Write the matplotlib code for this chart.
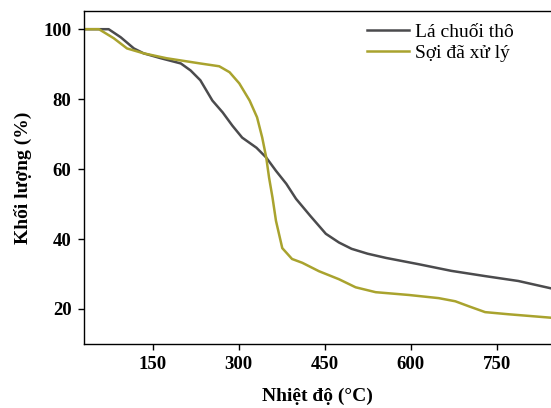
import matplotlib
matplotlib.use('Agg')
import matplotlib.pyplot as plt

# TGA curves
temp_raw = [30, 73, 94, 117, 134, 164, 199, 216, 233, 254, 272, 289, 306, 331, 348,
            365, 383, 400, 425, 452, 475, 497, 525, 557, 614, 671, 730, 788, 845]
mass_raw = [100, 100, 97.7, 94.5, 93.1, 91.7, 90.2, 88.2, 85.4, 79.6, 76.2, 72.4, 69.0,
            66.1, 63.3, 59.5, 55.8, 51.5, 46.6, 41.5, 39.0, 37.2, 35.8, 34.6, 32.8,
            30.9, 29.4, 28.0, 25.9]

temp_treated = [30, 56, 82, 105, 134, 174, 233, 266, 284, 301, 319, 332, 341, 348, 353,
                359, 365, 376, 393, 411, 440, 475, 504, 539, 597, 649, 678, 701, 730,
                770, 845]
mass_treated = [100, 100, 97.4, 94.5, 93.1, 91.7, 90.2, 89.4, 87.7, 84.5, 79.6, 74.8,
                69.0, 63.3, 57.5, 51.8, 45.2, 37.4, 34.3, 33.2, 30.8, 28.5, 26.2, 24.8,
                24.0, 23.1, 22.2, 20.8, 19.1, 18.5, 17.5]

series_labels = ['Lá chuối thô', 'Sợi đã xử lý']
x_ticks = [150, 300, 450, 600, 750]
y_ticks = [20, 40, 60, 80, 100]

plt.rcParams['font.family'] = ['Liberation Serif', 'DejaVu Serif']

fig = plt.figure(figsize=(5.51, 4.08), dpi=100)
ax = fig.add_axes([0.1525, 0.157, 0.8475, 0.816])

ax.plot(temp_raw, mass_raw, color='#4b4b4d', lw=1.8, label=series_labels[0])
ax.plot(temp_treated, mass_treated, color='#a9a32e', lw=1.8, label=series_labels[1])

ax.set_xlim(30, 845)
ax.set_ylim(10, 105.2)
ax.set_xticks(x_ticks)
ax.set_yticks(y_ticks)
ax.tick_params(direction='out', length=4, width=1, labelsize=13.5, pad=5)
for lbl in ax.get_xticklabels() + ax.get_yticklabels():
    lbl.set_fontweight('bold')

ax.spines['right'].set_visible(False)
for s in ['left', 'top', 'bottom']:
    ax.spines[s].set_linewidth(1.0)

ax.set_xlabel('Nhiệt độ (°C)', fontsize=14, fontweight='bold', labelpad=10)
ax.set_ylabel('Khối lượng (%)', fontsize=14, fontweight='bold', labelpad=8)

ax.legend(loc='upper right', frameon=False, fontsize=14, handlelength=2.2,
          handletextpad=0.3, labelspacing=0.2, borderaxespad=0.3,
          bbox_to_anchor=(0.95, 1.005))

fig.savefig('out.png', dpi=100)
